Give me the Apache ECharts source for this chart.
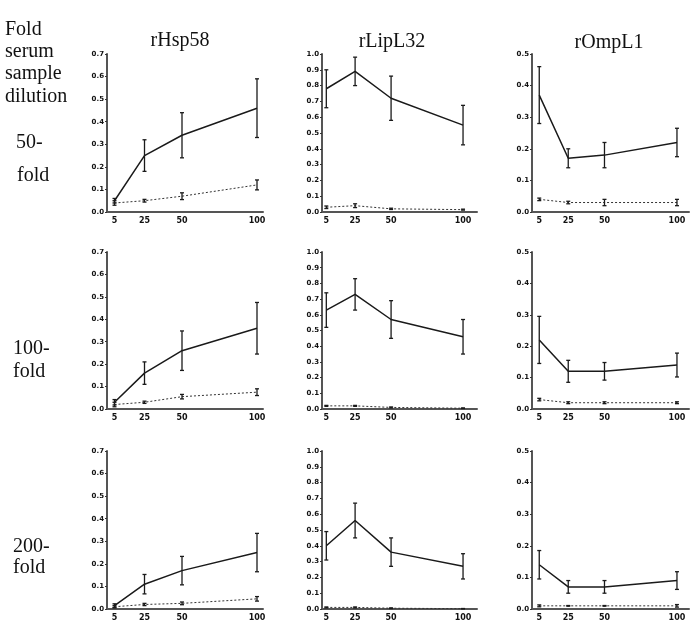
<!DOCTYPE html>
<html>
<head>
<meta charset="utf-8">
<script src="https://cdn.jsdelivr.net/npm/echarts@6/dist/echarts.min.js"></script>
<style>
  html, body { margin: 0; padding: 0; background: #fff; }
  #chart { width: 698px; height: 629px; }
</style>
</head>
<body>
<div id="chart"></div>
<script>
// dilution points on the x axis
var doses = [5, 25, 50, 100];
var antigens = ['rHsp58', 'rLipL32', 'rOmpL1'];
var rowLabels = [['50-', 'fold'], ['100-', 'fold'], ['200-', 'fold']];
var yMax = [0.7, 1.0, 0.5];

// solid line = positive sera, dotted = negative sera; one row per serum dilution
var hspPos    = [[0.05, 0.25, 0.34, 0.46], [0.03, 0.16, 0.26, 0.36], [0.015, 0.11, 0.17, 0.25]];
var hspPosErr = [[0.01, 0.07, 0.10, 0.13], [0.012, 0.05, 0.088, 0.115], [0.008, 0.043, 0.063, 0.085]];
var hspNeg    = [[0.04, 0.05, 0.07, 0.12], [0.02, 0.03, 0.055, 0.075], [0.01, 0.02, 0.025, 0.045]];
var hspNegErr = [[0.01, 0.006, 0.015, 0.022], [0.01, 0.005, 0.01, 0.015], [0.005, 0.005, 0.006, 0.01]];

var lipPos    = [[0.78, 0.89, 0.72, 0.55], [0.63, 0.73, 0.57, 0.46], [0.40, 0.56, 0.36, 0.27]];
var lipPosErr = [[0.12, 0.09, 0.14, 0.125], [0.11, 0.10, 0.12, 0.11], [0.09, 0.11, 0.09, 0.08]];
var lipNeg    = [[0.03, 0.04, 0.02, 0.015], [0.02, 0.02, 0.01, 0.005], [0.01, 0.01, 0.005, 0.002]];
var lipNegErr = [[0.008, 0.012, 0.004, 0.003], [0.003, 0.003, 0.003, 0.002], [0.003, 0.003, 0.002, 0.001]];

var ompPos    = [[0.37, 0.17, 0.18, 0.22], [0.22, 0.12, 0.12, 0.14], [0.14, 0.07, 0.07, 0.09]];
var ompPosErr = [[0.09, 0.03, 0.04, 0.045], [0.075, 0.035, 0.028, 0.038], [0.045, 0.02, 0.02, 0.028]];
var ompNeg    = [[0.04, 0.03, 0.03, 0.03], [0.03, 0.02, 0.02, 0.02], [0.01, 0.01, 0.01, 0.01]];
var ompNegErr = [[0.004, 0.004, 0.01, 0.01], [0.004, 0.003, 0.003, 0.003], [0.003, 0.001, 0.001, 0.004]];

var posSets = [[hspPos, hspPosErr], [lipPos, lipPosErr], [ompPos, ompPosErr]];
var negSets = [[hspNeg, hspNegErr], [lipNeg, lipNegErr], [ompNeg, ompNegErr]];

// layout of the 3x3 panels (pixels)
var colLeft = [107, 322, 532];
var colWidth = [156, 155, 157];
var colXMin = [0, 2, 0];
var colXMax = [104, 109.7, 108.3];
var rowTop = [54, 252, 451];
var rowHeight = [158, 157, 158];

var ink = '#1a1a1a';
var axisGray = '#555';

function pairs(vals) {
    return doses.map(function (d, i) { return [d, vals[i]]; });
}
function bars(vals, errs) {
    return doses.map(function (d, i) { return [d, vals[i] - errs[i], vals[i] + errs[i]]; });
}

function errItem(params, api) {
    var x = api.value(0);
    var lo = api.coord([x, api.value(1)]);
    var hi = api.coord([x, api.value(2)]);
    var w = 2;
    var st = { stroke: ink, lineWidth: 1.3 };
    return {
        type: 'group',
        children: [
            { type: 'line', shape: { x1: hi[0], y1: hi[1], x2: lo[0], y2: lo[1] }, style: st },
            { type: 'line', shape: { x1: hi[0] - w, y1: hi[1], x2: hi[0] + w, y2: hi[1] }, style: st },
            { type: 'line', shape: { x1: lo[0] - w, y1: lo[1], x2: lo[0] + w, y2: lo[1] }, style: st }
        ]
    };
}

var grids = [], xAxes = [], yAxes = [], series = [];
for (var r = 0; r < 3; r++) {
    for (var c = 0; c < 3; c++) {
        var k = grids.length;
        grids.push({ left: colLeft[c], top: rowTop[r], width: colWidth[c], height: rowHeight[r], containLabel: false });
        xAxes.push({
            type: 'value', gridIndex: k, min: colXMin[c], max: colXMax[c],
            splitLine: { show: false },
            axisLine: { lineStyle: { color: axisGray, width: 2 } },
            axisTick: { show: false },
            axisLabel: {
                customValues: doses, color: '#111', fontSize: 8, margin: 5,
                fontFamily: 'DejaVu Sans', fontWeight: 'bold'
            }
        });
        yAxes.push({
            type: 'value', gridIndex: k, min: 0, max: yMax[c], interval: 0.1,
            splitLine: { show: false },
            axisLine: { show: true, lineStyle: { color: axisGray, width: 2 } },
            axisTick: { show: true, length: 2, lineStyle: { color: '#333' } },
            axisLabel: {
                color: '#111', fontSize: 7, margin: 3, fontFamily: 'DejaVu Sans', fontWeight: 'bold',
                formatter: function (v) { return v.toFixed(1); }
            }
        });
        var pos = posSets[c], neg = negSets[c];
        series.push({
            type: 'line', xAxisIndex: k, yAxisIndex: k, data: pairs(pos[0][r]),
            showSymbol: false, lineStyle: { color: ink, width: 1.5 }, z: 3
        });
        series.push({
            type: 'line', xAxisIndex: k, yAxisIndex: k, data: pairs(neg[0][r]),
            showSymbol: false, lineStyle: { color: '#333', width: 1, type: [2, 2] }, z: 3
        });
        series.push({
            type: 'custom', xAxisIndex: k, yAxisIndex: k, renderItem: errItem,
            data: bars(pos[0][r], pos[1][r]), encode: { x: 0, y: [1, 2] }, z: 4
        });
        series.push({
            type: 'custom', xAxisIndex: k, yAxisIndex: k, renderItem: errItem,
            data: bars(neg[0][r], neg[1][r]), encode: { x: 0, y: [1, 2] }, z: 4
        });
    }
}

var serif = '"Liberation Serif", "Times New Roman", serif';
var texts = [];
function addText(str, x, y, align) {
    texts.push({
        type: 'text', x: x, y: y,
        style: { text: str, font: '20px ' + serif, fill: '#111', textAlign: align || 'left', textVerticalAlign: 'alphabetic' }
    });
}
['Fold', 'serum', 'sample', 'dilution'].forEach(function (s, i) { addText(s, 5, [20, 42, 64, 87][i]); });
var titleX = [180, 392, 609], titleY = [31, 32, 33];
antigens.forEach(function (a, i) { addText(a, titleX[i], titleY[i], 'center'); });
var rowBase = [[133, 166], [339, 362], [537, 558]];
var rowX = [[16, 17], [13, 13], [13, 13]];
rowLabels.forEach(function (lines, i) {
    addText(lines[0], rowX[i][0], rowBase[i][0]);
    addText(lines[1], rowX[i][1], rowBase[i][1]);
});

var mychart = echarts.init(document.getElementById('chart'));
mychart.setOption({
    animation: false,
    backgroundColor: '#fff',
    grid: grids,
    xAxis: xAxes,
    yAxis: yAxes,
    series: series,
    graphic: texts
});
</script>
</body>
</html>
